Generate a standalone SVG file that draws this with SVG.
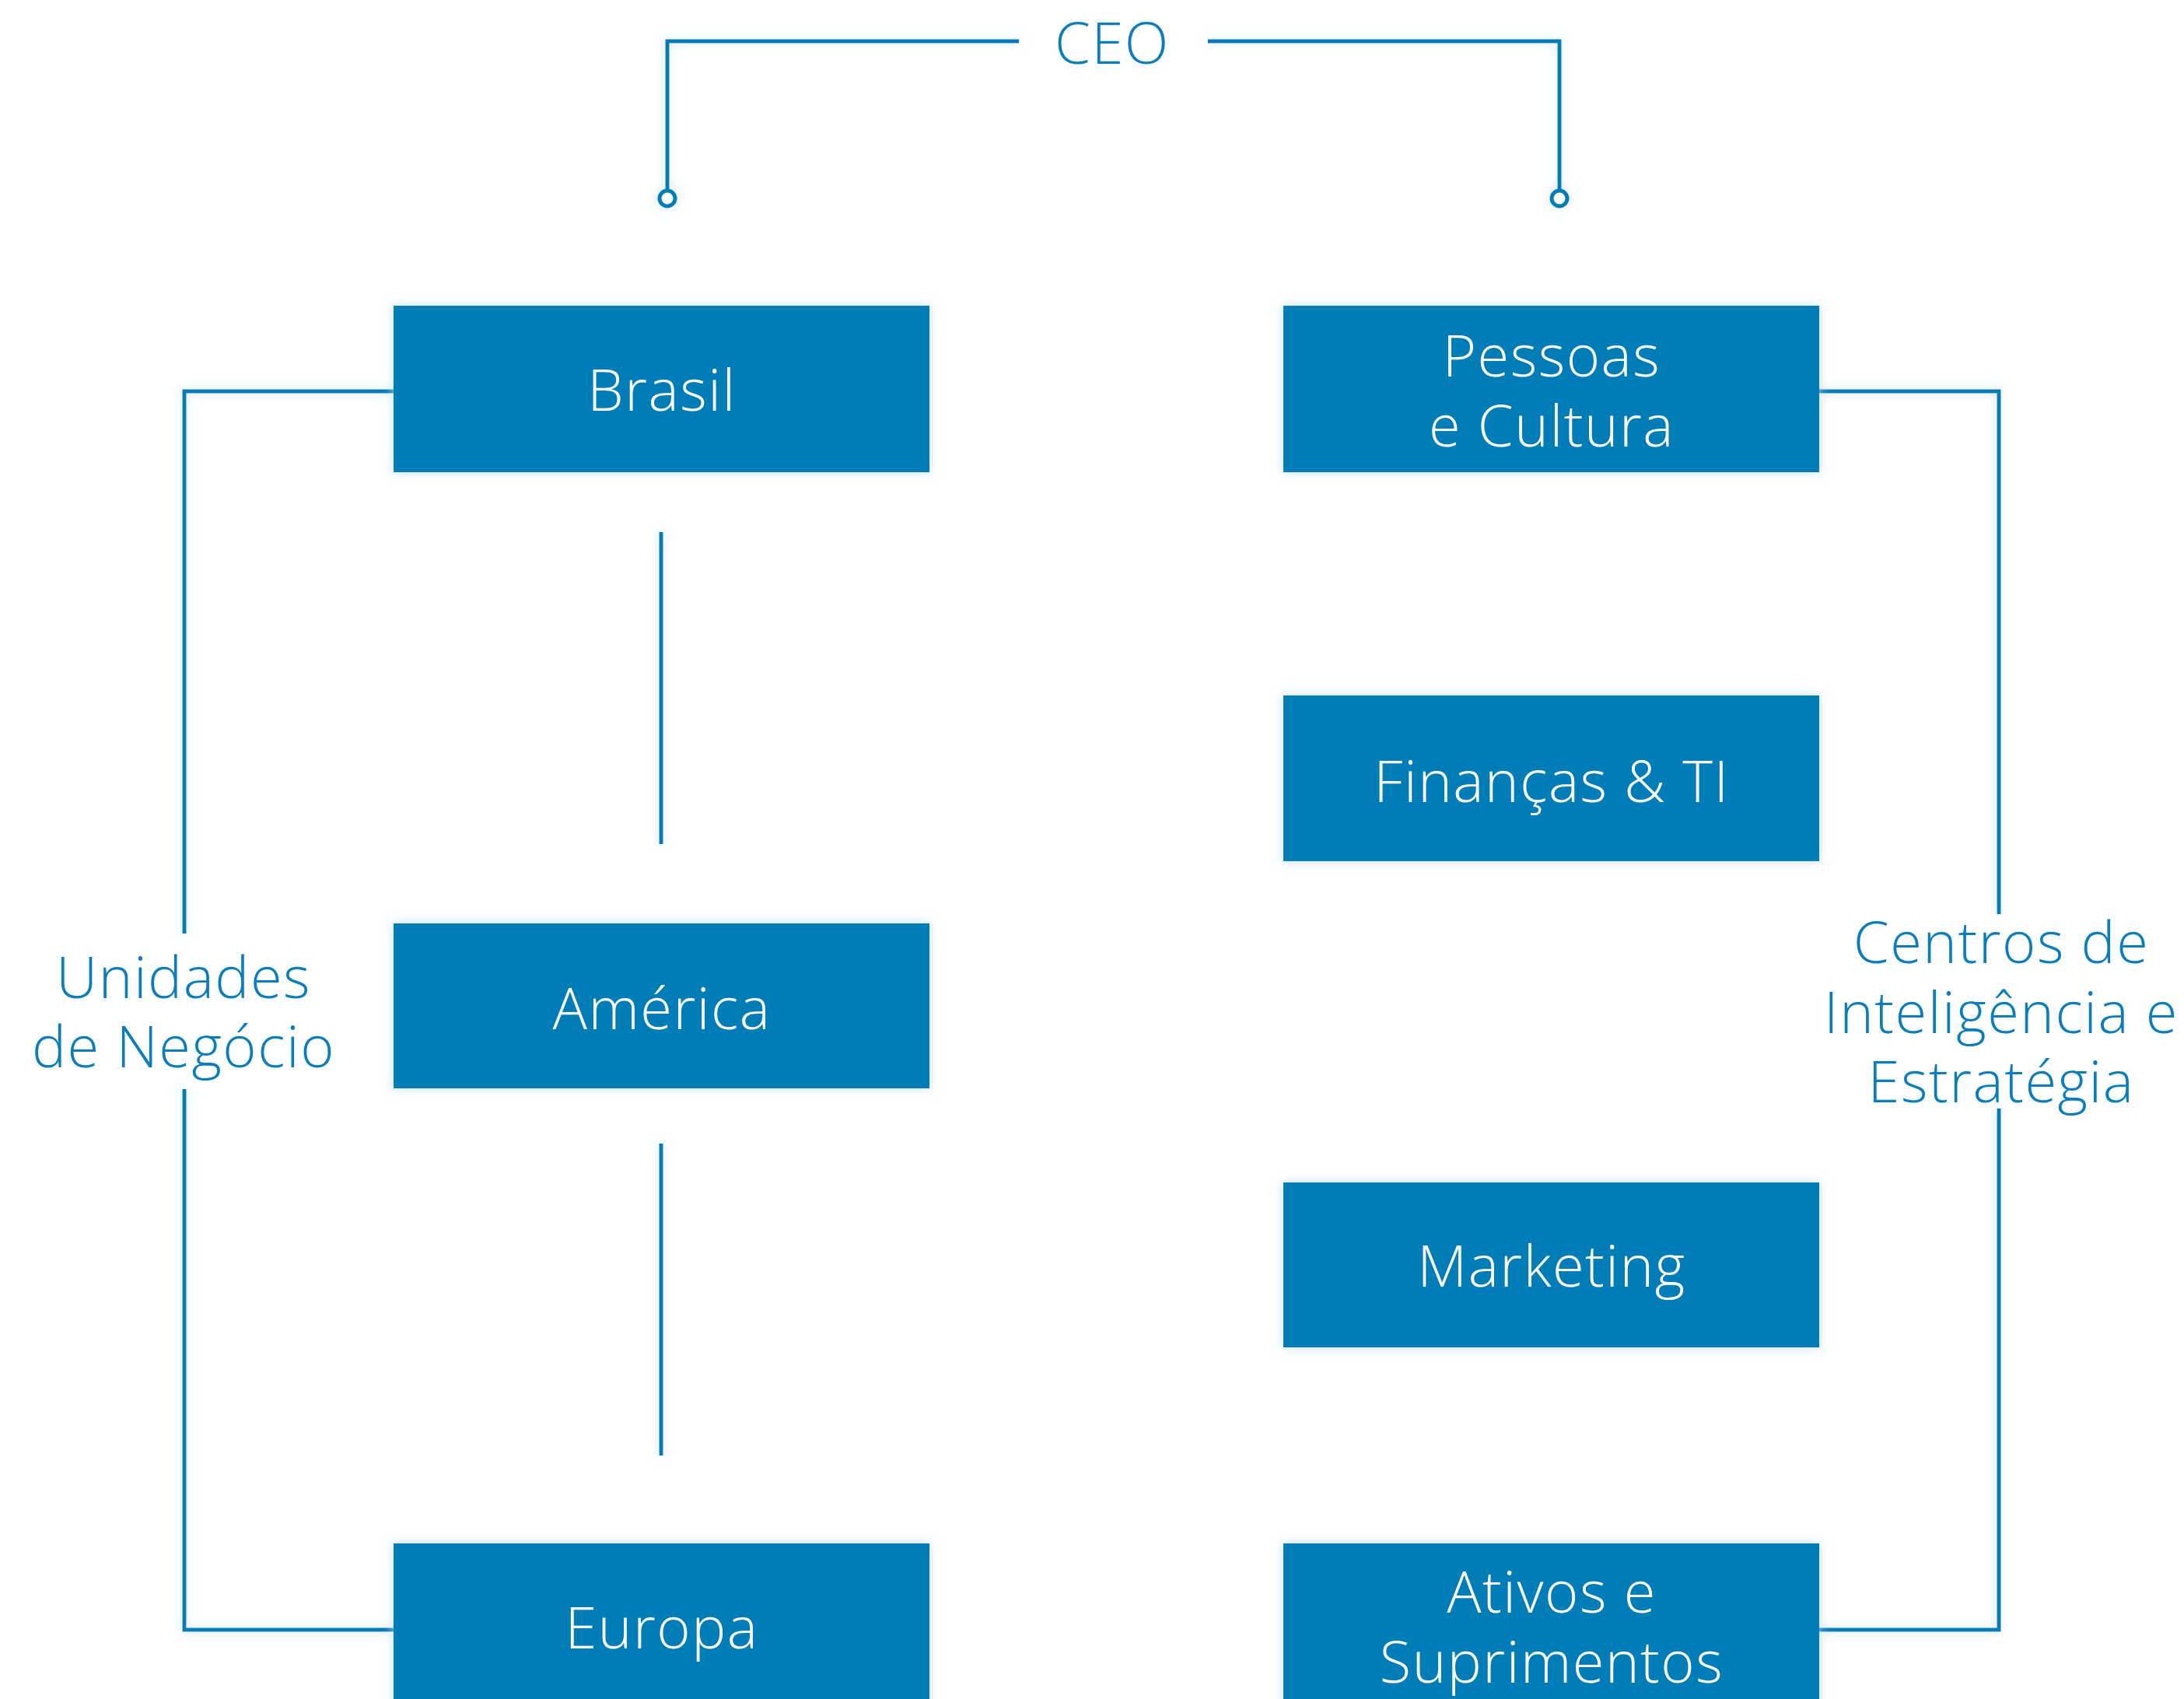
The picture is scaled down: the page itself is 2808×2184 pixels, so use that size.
<svg xmlns="http://www.w3.org/2000/svg" width="2808" height="2184" viewBox="0 0 2808 2184">
  <defs>
    <filter id="glow" x="-20%" y="-20%" width="140%" height="140%">
      <feGaussianBlur in="SourceAlpha" stdDeviation="7" result="blur"/>
      <feFlood flood-color="#bcdcee" flood-opacity="0.9"/>
      <feComposite in2="blur" operator="in" result="halo"/>
      <feMerge>
        <feMergeNode in="halo"/>
        <feMergeNode in="SourceGraphic"/>
      </feMerge>
    </filter>
    <filter id="lineglow" x="-50%" y="-50%" width="200%" height="200%" filterUnits="userSpaceOnUse">
      <feGaussianBlur in="SourceAlpha" stdDeviation="6" result="blur"/>
      <feFlood flood-color="#c4e0f0" flood-opacity="0.9"/>
      <feComposite in2="blur" operator="in" result="halo"/>
      <feMerge>
        <feMergeNode in="halo"/>
        <feMergeNode in="SourceGraphic"/>
      </feMerge>
    </filter>
  </defs>
  <style>
    .box { fill: #007db7; }
    .btxt { fill: #ffffff; font-family: "Open Sans", Lato, sans-serif; font-weight: 300; font-size: 74px; letter-spacing: 1.5px; text-anchor: middle; font-variant-ligatures: none; }
    .lbl { fill: #0a7dba; font-family: "Open Sans", Lato, sans-serif; font-weight: 300; font-size: 74px; letter-spacing: 1.5px; text-anchor: middle; font-variant-ligatures: none; }
    .ln { fill: none; stroke: #007db7; stroke-width: 5; }
    .dot { fill: #ffffff; stroke: #007db7; stroke-width: 5; }
  </style>
  <rect width="2808" height="2184" fill="#ffffff"/>

  <!-- connectors -->
  <g id="connectors" filter="url(#lineglow)">
    <!-- CEO bracket -->
    <path class="ln" d="M1310,53 H858 V244"/>
    <path class="ln" d="M1553,53 H2005 V244"/>
    <circle class="dot" cx="858" cy="255" r="10"/>
    <circle class="dot" cx="2005" cy="255" r="10"/>
    <!-- business units bracket -->
    <path class="ln" d="M506,503 H237 V1200"/>
    <path class="ln" d="M237,1400 V2095 H506"/>
    <!-- links between units -->
    <path class="ln" d="M850,684 V1085"/>
    <path class="ln" d="M850,1470 V1871"/>
    <!-- strategy centres bracket -->
    <path class="ln" d="M2302,503 H2570 V1175"/>
    <path class="ln" d="M2570,1425 V2095 H2302"/>
  </g>

  <!-- labels -->
  <g id="ceo">
    <text class="lbl" x="1430" y="82">CEO</text>
  </g>
  <g id="label-unidades">
    <text class="lbl" x="236" y="1283">Unidades</text>
    <text class="lbl" x="236" y="1372">de Negócio</text>
  </g>
  <g id="label-centros">
    <text class="lbl" x="2573" y="1238">Centros de</text>
    <text class="lbl" x="2573" y="1328">Inteligência e</text>
    <text class="lbl" x="2573" y="1417">Estratégia</text>
  </g>

  <!-- left column -->
  <g id="brasil" filter="url(#glow)">
    <rect class="box" x="506" y="393" width="689" height="214"/>
    <text class="btxt" x="851" y="528">Brasil</text>
  </g>
  <g id="america" filter="url(#glow)">
    <rect class="box" x="506" y="1187" width="689" height="212"/>
    <text class="btxt" x="851" y="1323">América</text>
  </g>
  <g id="europa" filter="url(#glow)">
    <rect class="box" x="506" y="1984" width="689" height="230"/>
    <text class="btxt" x="851" y="2119">Europa</text>
  </g>

  <!-- right column -->
  <g id="pessoas" filter="url(#glow)">
    <rect class="box" x="1650" y="393" width="689" height="214"/>
    <text class="btxt" x="1995" y="484">Pessoas</text>
    <text class="btxt" x="1995" y="574">e Cultura</text>
  </g>
  <g id="financas" filter="url(#glow)">
    <rect class="box" x="1650" y="894" width="689" height="213"/>
    <text class="btxt" x="1995" y="1031">Finanças &amp; TI</text>
  </g>
  <g id="marketing" filter="url(#glow)">
    <rect class="box" x="1650" y="1520" width="689" height="212"/>
    <text class="btxt" x="1995" y="1654">Marketing</text>
  </g>
  <g id="ativos" filter="url(#glow)">
    <rect class="box" x="1650" y="1984" width="689" height="230"/>
    <text class="btxt" x="1995" y="2073">Ativos e</text>
    <text class="btxt" x="1995" y="2163">Suprimentos</text>
  </g>
</svg>
